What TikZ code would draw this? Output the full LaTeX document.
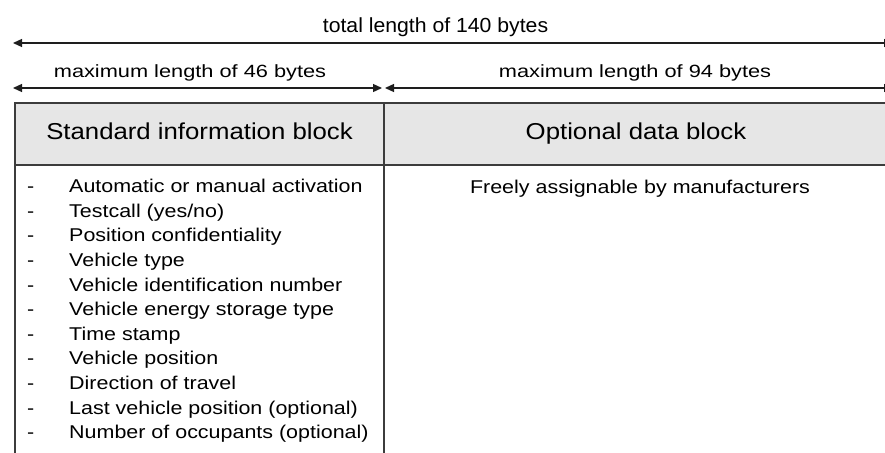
\documentclass[tikz,border=0pt]{standalone}
\usepackage{fontspec}
\setmainfont{Liberation Sans}[FakeStretch=1.16]
\newfontfamily\totfont{Liberation Sans}[FakeStretch=1.04]
\newfontfamily\maxfont{Liberation Sans}[FakeStretch=1.23]
\newfontfamily\hdrfont{Liberation Sans}[FakeStretch=1.12]
\usetikzlibrary{arrows.meta}
\definecolor{hdrgray}{HTML}{E6E6E6}
\definecolor{linegray}{HTML}{3C3C3C}
\definecolor{arrowgray}{HTML}{1E1E1E}
\tikzset{
  cell/.style={draw=linegray, line width=1.8pt, inner sep=0pt, outer sep=0pt},
  hdrcell/.style={cell, fill=hdrgray, minimum height=62pt, text height=17pt, text depth=6pt,
                  font=\hdrfont\fontsize{23}{28}\selectfont},
  bodycell/.style={cell, minimum height=315pt},
  dimline/.style={draw=arrowgray, line width=1.3pt, {Triangle[length=9pt,width=8pt]}-{Triangle[length=9pt,width=8pt]}},
  totlabel/.style={anchor=base, inner sep=0pt, font=\totfont\fontsize{20.4}{24}\selectfont},
  maxlabel/.style={anchor=base, inner sep=0pt, font=\maxfont\fontsize{17.7}{21}\selectfont},
  bodytext/.style={inner sep=0pt, font=\fontsize{18.5}{24.6}\selectfont}
}
\begin{document}
\begin{tikzpicture}[x=1pt,y=-1pt]
\useasboundingbox (0,0) rectangle (885,452);
\clip (0,0) rectangle (885,452);
% body cells
\node[bodycell, minimum width=369pt] (stdbody) at (199.5,322.5) {};
\node[bodycell, minimum width=504pt] (optbody) at (636,322.5) {};
% header cells
\node[hdrcell, minimum width=369pt] (stdhdr) at (199.5,134) {Standard information block};
\node[hdrcell, minimum width=504pt] (opthdr) at (636,134) {Optional data block};
% body texts
\node[bodytext, anchor=base west] (items) at (27,192.7) {%
\begin{tabular}[t]{@{}p{42pt}@{}l@{}}
- & Automatic or manual activation\\
- & Testcall (yes/no)\\
- & Position confidentiality\\
- & Vehicle type\\
- & Vehicle identification number\\
- & Vehicle energy storage type\\
- & Time stamp\\
- & Vehicle position\\
- & Direction of travel\\
- & Last vehicle position (optional)\\
- & Number of occupants (optional)
\end{tabular}};
\node[bodytext, anchor=base] (free) at (640,193) {Freely assignable by manufacturers};
% dimension lines
\coordinate (totL) at (13,43);
\coordinate (totR) at (893,43);
\coordinate (stdL) at (13,88);
\coordinate (stdR) at (382,88);
\coordinate (optL) at (385,88);
\coordinate (optR) at (893,88);
\draw[dimline] (totL) -- (totR);
\draw[dimline] (stdL) -- (stdR);
\draw[dimline] (optL) -- (optR);
\node[totlabel] (totlab) at (435.5,32.3) {total length of 140 bytes};
\node[maxlabel] (stdlab) at (190,77.7) {maximum length of 46 bytes};
\node[maxlabel] (optlab) at (635,77.7) {maximum length of 94 bytes};
\end{tikzpicture}
\end{document}
